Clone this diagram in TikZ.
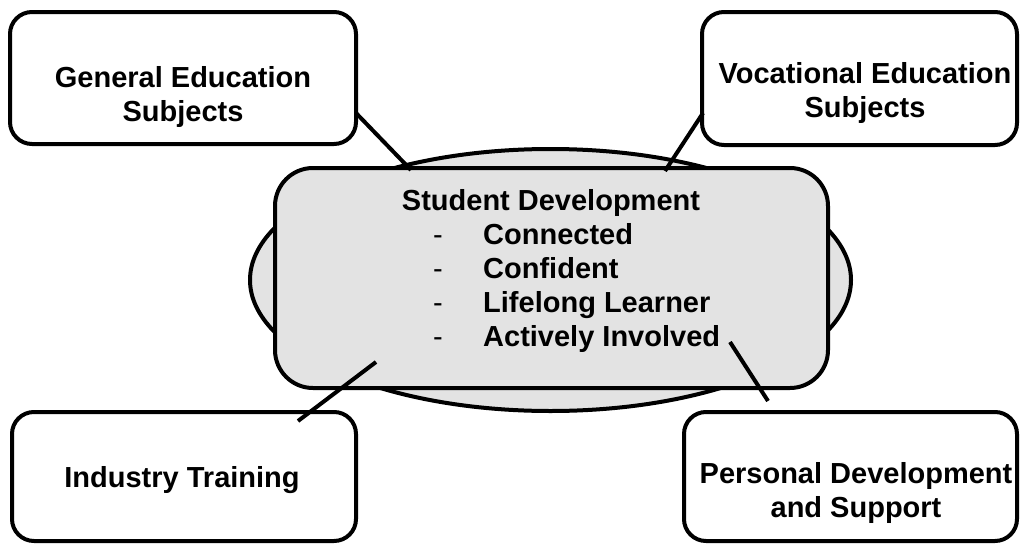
\documentclass[tikz,border=0pt]{standalone}
\usepackage{fontspec}
\setmainfont{Liberation Sans}
\usetikzlibrary{shapes.geometric}
\definecolor{fillg}{RGB}{227,227,227}
\begin{document}
\begin{tikzpicture}[x=1pt,y=-1pt,
  box/.style={draw=black, line width=4pt, rounded corners=22pt, fill=white, inner sep=0pt},
  lbl/.style={font=\fontsize{29}{34}\selectfont\bfseries, inner sep=0pt, anchor=base},
  dashlbl/.style={font=\fontsize{29}{34}\selectfont, inner sep=0pt, anchor=base},
  item/.style={font=\fontsize{29}{34}\selectfont\bfseries, inner sep=0pt, anchor=base west},
  conn/.style={draw=black, line width=4pt},
]
\useasboundingbox (0,0) rectangle (1020,546);

% central ellipse and rounded box
\node[ellipse, draw=black, line width=4pt, fill=fillg, inner sep=0pt,
      minimum width=601pt, minimum height=262pt] (ell) at (550.5,280) {};
\node[draw=black, line width=4pt, fill=fillg, rounded corners=38pt, inner sep=0pt,
      minimum width=553pt, minimum height=220pt] (core) at (551.5,278) {};

% outer boxes
\node[box, minimum width=346pt, minimum height=132pt] (gen) at (183,78) {};
\node[box, minimum width=315pt, minimum height=133pt] (voc) at (859.5,78.5) {};
\node[box, minimum width=344pt, minimum height=129pt] (ind) at (184,476.5) {};
\node[box, minimum width=333pt, minimum height=129pt] (per) at (850.5,476.5) {};

% connector end points
\coordinate (g1) at (356,113);
\coordinate (g2) at (411,170);
\coordinate (v1) at (703,113);
\coordinate (v2) at (665,171);
\coordinate (i1) at (298,421);
\coordinate (i2) at (376,362);
\coordinate (p1) at (730,342);
\coordinate (p2) at (768,401);

\draw[conn] (g1) -- (g2);
\draw[conn] (v1) -- (v2);
\draw[conn] (i1) -- (i2);
\draw[conn] (p1) -- (p2);

% labels
\node[lbl] (genT) at (183,87) {\begin{tabular}[t]{@{}c@{}}General Education\\Subjects\end{tabular}};
\node[lbl] (vocT) at (865,83) {\begin{tabular}[t]{@{}c@{}}Vocational Education\\Subjects\end{tabular}};
\node[lbl] (indT) at (182,487) {Industry Training};
\node[lbl] (perT) at (856,483) {\begin{tabular}[t]{@{}c@{}}Personal Development\\and Support\end{tabular}};

\node[lbl] (title) at (551,210) {Student Development};
\node[dashlbl] (d1) at (438,244) {-};
\node[dashlbl] (d2) at (438,278) {-};
\node[dashlbl] (d3) at (438,312) {-};
\node[dashlbl] (d4) at (438,346) {-};
\node[item] (it1) at (483,244) {Connected};
\node[item] (it2) at (483,278) {Confident};
\node[item] (it3) at (483,312) {Lifelong Learner};
\node[item] (it4) at (483,346) {Actively Involved};
\end{tikzpicture}
\end{document}
